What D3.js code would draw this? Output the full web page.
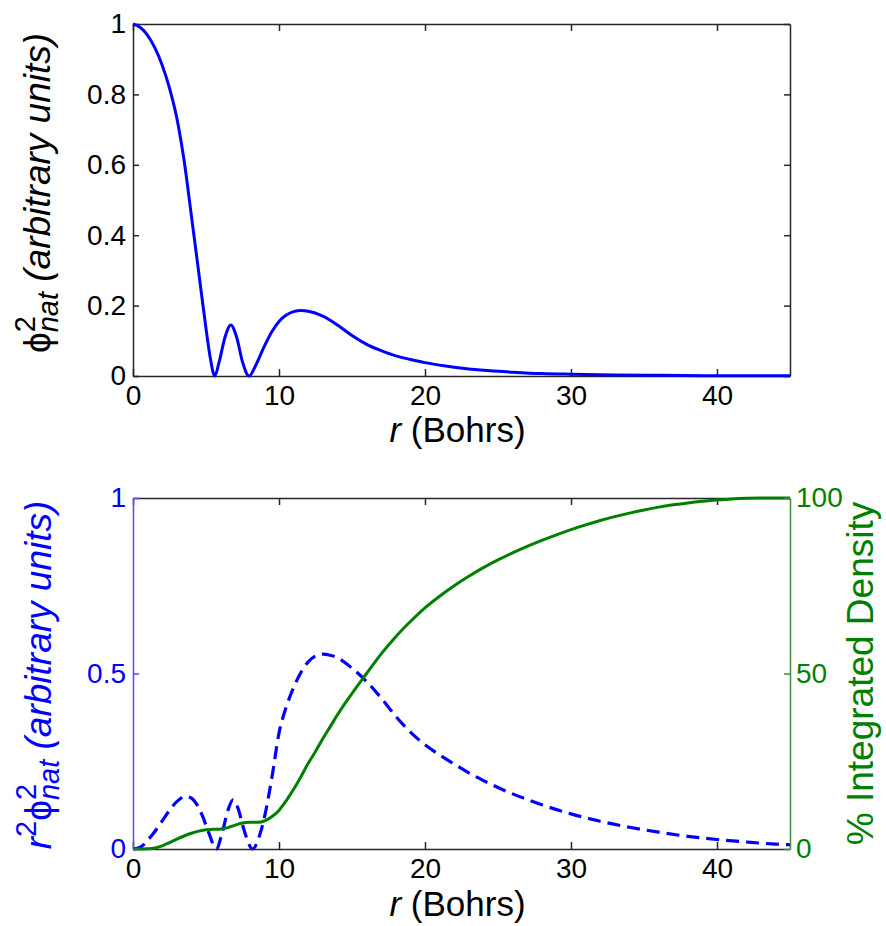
<!DOCTYPE html>
<html>
<head>
<meta charset="utf-8">
<script src="https://cdn.jsdelivr.net/npm/d3@7"></script>
<style>
  html, body { margin: 0; padding: 0; background: #fff; }
  svg { display: block; font-family: "Liberation Sans", Arial, sans-serif; }
</style>
</head>
<body>
<svg id="chart" width="886" height="926"></svg>
<script>
// ---------- data ----------
const topR = [0,0.5,1,1.5,2,2.5,3,3.25,3.5,4,4.5,5,5.3,5.6,5.9,6.3,6.7,7.1,7.5,7.95,8.4,9,9.5,10,10.5,11,11.5,12,13,14,15,16,17,18,19,20,22,24,26,28,30,33,36,40,45];
const topPhi2 = [1,0.99,0.968,0.932,0.883,0.818,0.733,0.677,0.612,0.455,0.295,0.135,0.05,0,0.04,0.11,0.145,0.11,0.04,0,0.03,0.085,0.125,0.155,0.173,0.183,0.186,0.184,0.17,0.145,0.115,0.09,0.072,0.057,0.047,0.038,0.025,0.016,0.011,0.007,0.005,0.003,0.002,0.001,0.001];

const botR = [0,0.5,1,1.5,2,2.5,3,3.6,4,4.4,4.8,5.2,5.7,6.1,6.5,6.85,7.2,7.6,8.2,8.6,9,9.5,10,10.5,11,11.5,12,12.5,13,13.5,14,15,16,17,18,19,20,21,22,23,24,25,26,27,28,30,32,34,36,38,40,42,44,45];
const botRPhi2 = [0,0.005,0.025,0.05,0.08,0.11,0.135,0.15,0.145,0.125,0.09,0.045,0,0.045,0.11,0.14,0.115,0.055,0,0.03,0.09,0.2,0.33,0.405,0.46,0.503,0.533,0.55,0.555,0.552,0.545,0.515,0.477,0.43,0.378,0.333,0.297,0.268,0.242,0.217,0.195,0.175,0.157,0.141,0.126,0.1,0.079,0.062,0.048,0.036,0.027,0.02,0.014,0.012];

const cumR = [0,1,1.5,2,2.5,3,3.5,4,4.5,5,5.5,6,6.5,7,7.5,8,8.6,9,9.5,10,10.5,11,11.5,12,12.5,13,13.5,14,15,16,17,18,19,20,21,22,23,24,25,26,27,28,29,30,31,32,33,34,35,36,37,38,39,40,41,42,43,45];
const cumPct = [0,0.1,0.3,0.9,1.8,2.8,3.7,4.5,5.1,5.5,5.6,5.7,6.1,6.8,7.4,7.6,7.6,8.0,9.2,11.0,13.8,17.0,20.6,24.4,27.8,31.4,34.8,38.2,44.3,50.0,55.6,60.5,64.8,68.7,72.0,75.0,77.7,80.15,82.35,84.35,86.2,87.9,89.5,91.0,92.35,93.6,94.7,95.7,96.6,97.4,98.05,98.6,99.05,99.4,99.7,99.9,99.97,100];

const xTickVals = [0,10,20,30,40];
const xTickLabels = ["0","10","20","30","40"];
const topYTicks = [0,0.2,0.4,0.6,0.8,1];
const topYLabels = ["0","0.2","0.4","0.6","0.8","1"];
const leftYTicks = [0,0.5,1];
const leftYLabels = ["0","0.5","1"];
const rightYTicks = [0,50,100];
const rightYLabels = ["0","50","100"];

// ---------- layout ----------
const svg = d3.select("#chart");
const L = 133, R = 790;
const topT = 24, topB = 376;
const botT = 498, botB = 849;
const frameColor = "#262626";
const blue = "#0000ff", green = "#008000";
const tickFont = 28, labelFont = 35, yLabelFont = 37, supSize = 29;

const xTop = d3.scaleLinear().domain([0,45]).range([L,R]);
const yTop = d3.scaleLinear().domain([0,1]).range([topB,topT]);
const xBot = d3.scaleLinear().domain([0,45]).range([L,R]);
const yLeft = d3.scaleLinear().domain([0,1]).range([botB,botT]);
const yRight = d3.scaleLinear().domain([0,100]).range([botB,botT]);

function styleAxis(g, color) {
  g.selectAll("path.domain").attr("stroke", color).attr("stroke-width", 1.5);
  g.selectAll(".tick line").attr("stroke", color).attr("stroke-width", 1.5);
  g.selectAll(".tick text").attr("fill", color).style("font-size", tickFont + "px")
    .style("font-family", '"Liberation Sans", Arial, sans-serif');
}

function labelsFrom(vals, labs) { return (d) => labs[vals.indexOf(d)]; }

// ---------- top plot ----------
const gTop = svg.append("g");
gTop.append("g").attr("transform", `translate(0,${topT})`)
  .call(d3.axisTop(xTop).tickValues(xTickVals).tickSizeInner(-7).tickSizeOuter(0).tickFormat(""))
  .call(g => styleAxis(g, frameColor));
gTop.append("g").attr("transform", `translate(${R},0)`)
  .call(d3.axisRight(yTop).tickValues(topYTicks).tickSizeInner(-6).tickSizeOuter(0).tickFormat(""))
  .call(g => styleAxis(g, frameColor));
gTop.append("g").attr("transform", `translate(0,${topB})`)
  .call(d3.axisBottom(xTop).tickValues(xTickVals).tickSizeInner(-7).tickSizeOuter(0).tickPadding(9)
    .tickFormat(labelsFrom(xTickVals, xTickLabels)))
  .call(g => styleAxis(g, frameColor))
  .call(g => g.selectAll(".tick text").attr("fill", "#000"));
gTop.append("g").attr("transform", `translate(${L},0)`)
  .call(d3.axisLeft(yTop).tickValues(topYTicks).tickSizeInner(-6).tickSizeOuter(0).tickPadding(7)
    .tickFormat(labelsFrom(topYTicks, topYLabels)))
  .call(g => styleAxis(g, frameColor))
  .call(g => g.selectAll(".tick text").attr("fill", "#000"));

const lineTop = d3.line().x((d,i) => xTop(topR[i])).y(d => yTop(d)).curve(d3.curveMonotoneX);
gTop.append("path").datum(topPhi2).attr("d", lineTop)
  .attr("fill", "none").attr("stroke", blue).attr("stroke-width", 3).attr("stroke-linejoin", "round");

// ---------- bottom plot ----------
const gBot = svg.append("g");
const lineDash = d3.line().x((d,i) => xBot(botR[i])).y(d => yLeft(d)).curve(d3.curveMonotoneX);
gBot.append("path").datum(botRPhi2).attr("d", lineDash)
  .attr("fill", "none").attr("stroke", blue).attr("stroke-width", 3.2)
  .attr("stroke-dasharray", "13,7");

gBot.append("g").attr("transform", `translate(0,${botT})`)
  .call(d3.axisTop(xBot).tickValues(xTickVals).tickSizeInner(-7).tickSizeOuter(0).tickFormat(""))
  .call(g => styleAxis(g, frameColor));
gBot.append("g").attr("transform", `translate(0,${botB})`)
  .call(d3.axisBottom(xBot).tickValues(xTickVals).tickSizeInner(-7).tickSizeOuter(0).tickPadding(9)
    .tickFormat(labelsFrom(xTickVals, xTickLabels)))
  .call(g => styleAxis(g, frameColor))
  .call(g => g.selectAll(".tick text").attr("fill", "#000"));

const lineCum = d3.line().x((d,i) => xBot(cumR[i])).y(d => yRight(d)).curve(d3.curveMonotoneX);
gBot.append("path").datum(cumPct).attr("d", lineCum)
  .attr("fill", "none").attr("stroke", green).attr("stroke-width", 3).attr("stroke-linejoin", "round");

gBot.append("g").attr("transform", `translate(${L},0)`)
  .call(d3.axisLeft(yLeft).tickValues(leftYTicks).tickSizeInner(-6).tickSizeOuter(0).tickPadding(7)
    .tickFormat(labelsFrom(leftYTicks, leftYLabels)))
  .call(g => styleAxis(g, "#4d4dff"))
  .call(g => g.selectAll(".tick text").attr("fill", blue));
gBot.append("g").attr("transform", `translate(${R},0)`)
  .call(d3.axisRight(yRight).tickValues(rightYTicks).tickSizeInner(-6).tickSizeOuter(0).tickPadding(6)
    .tickFormat(labelsFrom(rightYTicks, rightYLabels)))
  .call(g => styleAxis(g, "#3f8f3f"))
  .call(g => g.selectAll(".tick text").attr("fill", green));

// ---------- labels ----------
function xLabel(y) {
  const t = svg.append("text").attr("x", (L+R)/2 - 4).attr("y", y)
    .attr("text-anchor", "middle").style("font-size", labelFont + "px").attr("fill", "#000");
  t.append("tspan").style("font-style", "italic").text("r");
  t.append("tspan").text(" (Bohrs)");
}
xLabel(topB + 66);
xLabel(botB + 67);

function measure(str, size, italic) {
  const t = svg.append("text").style("font-size", size + "px")
    .style("font-style", italic ? "italic" : "normal").text(str);
  const w = t.node().getComputedTextLength();
  t.remove();
  return w;
}

function yLabel(x, cy, color, pieces) {
  const g = svg.append("g").attr("transform", `translate(${x},${cy}) rotate(-90)`);
  const t = g.append("text").attr("x", 0).attr("y", 0).attr("text-anchor", "middle")
    .attr("fill", color).style("font-size", yLabelFont + "px");
  pieces.forEach(p => {
    const s = t.append("tspan").text(p.t).style("font-size", p.size + "px")
      .style("font-style", p.italic ? "italic" : "normal");
    if (p.dy) s.attr("dy", p.dy);
    if (p.back) s.attr("dx", -measure(p.back, p.backSize, false));
  });
}

yLabel(50, 193, "#000", [
  {t: "\u03D5", size: yLabelFont},
  {t: "2", size: supSize, dy: -15},
  {t: "nat", size: supSize, italic: true, dy: 23, back: "2", backSize: supSize},
  {t: " (arbitrary units)", size: yLabelFont, italic: true, dy: -8}
]);
yLabel(51, 675, blue, [
  {t: "r", size: yLabelFont, italic: true},
  {t: "2", size: supSize, dy: -15},
  {t: "\u03D5", size: yLabelFont, dy: 15},
  {t: "2", size: supSize, dy: -15},
  {t: "nat", size: supSize, italic: true, dy: 23, back: "2", backSize: supSize},
  {t: " (arbitrary units)", size: yLabelFont, italic: true, dy: -8}
]);

svg.append("g").attr("transform", `translate(873,${(botT+botB)/2}) rotate(-90)`)
  .append("text").attr("text-anchor", "middle").attr("fill", green)
  .style("font-size", yLabelFont + "px").text("% Integrated Density");
</script>
</body>
</html>
